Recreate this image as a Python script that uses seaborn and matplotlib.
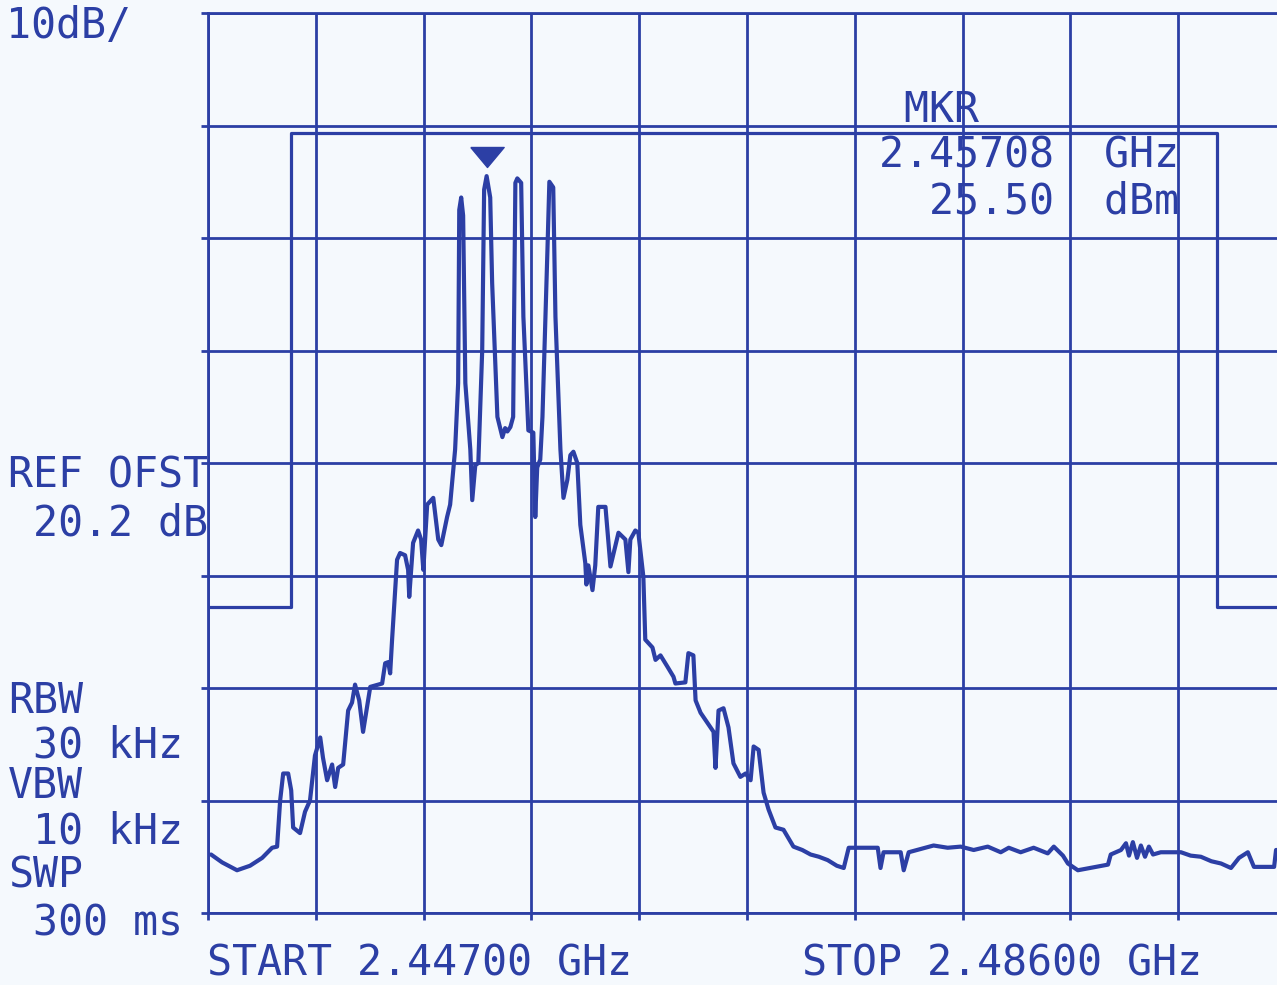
import numpy as np
import pandas as pd
import matplotlib
matplotlib.use("Agg")
import matplotlib.pyplot as plt
import matplotlib.transforms as mtransforms
import seaborn as sns

# ---------------- data ----------------
start_mhz = 2447.0
stop_mhz = 2486.0
ref_level_dbm = 40.0
db_per_div = 10.0
n_xdiv = 10
n_ydiv = 8

trace_freq_mhz = [
    2447.11, 2447.51, 2448.05, 2448.52, 2448.96, 2449.32, 2449.50, 2449.61, 2449.72, 2449.90,
    2450.01, 2450.08, 2450.33, 2450.51, 2450.69, 2450.87, 2451.06, 2451.16, 2451.31, 2451.49,
    2451.60, 2451.71, 2451.89, 2452.07, 2452.21, 2452.32, 2452.47, 2452.61, 2452.87, 2453.30,
    2453.41, 2453.52, 2453.59, 2453.66, 2453.84, 2453.95, 2454.13, 2454.24, 2454.28, 2454.42,
    2454.60, 2454.71, 2454.79, 2454.93, 2455.15, 2455.33, 2455.44, 2455.65, 2455.76, 2455.94,
    2456.05, 2456.09, 2456.16, 2456.23, 2456.31, 2456.49, 2456.56, 2456.67, 2456.78, 2456.92,
    2456.99, 2457.08, 2457.21, 2457.28, 2457.47, 2457.65, 2457.75, 2457.83, 2457.94, 2458.04,
    2458.12, 2458.19, 2458.33, 2458.41, 2458.59, 2458.77, 2458.84, 2458.91, 2459.02, 2459.10,
    2459.28, 2459.35, 2459.49, 2459.57, 2459.75, 2459.86, 2460.00, 2460.11, 2460.22, 2460.36,
    2460.47, 2460.65, 2460.69, 2460.76, 2460.91, 2461.01, 2461.12, 2461.38, 2461.56, 2461.85,
    2462.10, 2462.21, 2462.28, 2462.46, 2462.57, 2462.75, 2462.82, 2463.08, 2463.19, 2463.37,
    2463.62, 2463.84, 2463.91, 2464.27, 2464.38, 2464.56, 2464.64, 2464.82, 2465.29, 2465.36,
    2465.47, 2465.65, 2465.83, 2466.01, 2466.26, 2466.45, 2466.63, 2466.74, 2466.92, 2467.10,
    2467.28, 2467.53, 2467.82, 2468.18, 2468.50, 2468.80, 2469.10, 2469.42, 2469.75, 2470.00,
    2470.18, 2471.23, 2471.33, 2471.44, 2472.06, 2472.17, 2472.35, 2473.25, 2473.76, 2474.23,
    2474.70, 2475.21, 2475.68, 2475.97, 2476.40, 2476.87, 2477.38, 2477.60, 2477.93, 2478.11,
    2478.47, 2479.56, 2479.66, 2480.03, 2480.21, 2480.32, 2480.46, 2480.61, 2480.75, 2480.90,
    2481.04, 2481.19, 2481.47, 2482.20, 2482.55, 2482.92, 2483.30, 2483.65, 2484.01, 2484.30,
    2484.62, 2484.84, 2485.57, 2485.64, 2486.00,
]
trace_level_dbm = [
    -34.8, -35.5, -36.2, -35.8, -35.1, -34.2, -34.1, -30.0, -27.6, -27.6,
    -29.1, -32.4, -32.9, -31.0, -30.0, -26.0, -24.4, -26.2, -28.2, -26.8,
    -28.8, -27.1, -26.8, -22.0, -21.3, -19.7, -21.1, -23.9, -19.9, -19.6,
    -17.8, -17.7, -18.7, -15.7, -8.6, -8.0, -8.2, -9.5, -11.9, -7.1,
    -6.0, -6.8, -9.5, -3.7, -3.1, -6.8, -7.3, -4.8, -3.7, 1.2,
    7.1, 22.5, 23.6, 22.0, 7.1, 1.2, -3.3, -0.2, 0.0, 10.0,
    24.3, 25.5, 23.6, 16.0, 4.1, 2.3, 3.1, 2.8, 3.2, 4.1,
    24.9, 25.3, 24.9, 13.0, 2.9, 2.7, -4.8, -0.4, 0.3, 4.1,
    18.9, 25.0, 24.5, 13.0, 1.2, -3.1, -1.5, 0.7, 1.0, 0.0,
    -5.5, -8.9, -10.8, -9.1, -11.3, -9.1, -3.9, -3.9, -9.2, -6.2,
    -6.8, -9.7, -6.8, -6.0, -6.2, -10.1, -15.7, -16.4, -17.5, -17.1,
    -18.1, -19.0, -19.6, -19.5, -16.9, -17.1, -21.1, -22.2, -23.9, -27.1,
    -22.0, -21.8, -23.5, -26.7, -27.9, -27.6, -28.2, -25.2, -25.5, -29.3,
    -30.8, -32.4, -32.6, -34.1, -34.4, -34.8, -35.0, -35.3, -35.8, -36.0,
    -34.2, -34.2, -36.0, -34.6, -34.6, -36.2, -34.6, -34.0, -34.2, -34.1,
    -34.4, -34.1, -34.6, -34.2, -34.6, -34.2, -34.7, -34.1, -34.9, -35.6,
    -36.2, -35.7, -34.8, -34.4, -33.8, -34.9, -33.7, -35.1, -34.0, -35.0,
    -34.1, -34.8, -34.6, -34.6, -34.9, -35.0, -35.4, -35.6, -36.0, -35.1,
    -34.6, -35.9, -35.9, -34.4, -34.4,
]

mask_freq_mhz = [2447.0, 2450.0, 2450.0, 2483.5, 2483.5, 2486.0]
mask_level_dbm = [-12.8, -12.8, 29.3, 29.3, -12.8, -12.8]

marker_freq_mhz = 2457.08
marker_level_dbm = 25.50

label_scale = "10dB/"
label_ref_ofst = ["REF OFST", " 20.2 dB"]
label_bw = ["RBW", " 30 kHz", "VBW", " 10 kHz", "SWP", " 300 ms"]
label_start = "START 2.44700 GHz"
label_stop = "STOP 2.48600 GHz"
label_mkr = [" MKR", "2.45708  GHz", "  25.50  dBm"]

# ---------------- style ----------------
INK = "#2c3fa5"
PAPER = "#f5f9fd"
W, H = 1277, 985

sns.set_theme(style="white", rc={"axes.facecolor": PAPER, "figure.facecolor": PAPER})
plt.rcParams["font.family"] = ["DejaVu Sans Mono", "DejaVu Sans"]

fig = plt.figure(figsize=(W / 100, H / 100), dpi=100)
ax_left, ax_right, ax_top, ax_bot = 208, 1286, 13, 913
ax = fig.add_axes([ax_left / W, (H - ax_bot) / H, (ax_right - ax_left) / W, (ax_bot - ax_top) / H])

df = pd.DataFrame({"freq": trace_freq_mhz, "level": trace_level_dbm})
sns.lineplot(data=df, x="freq", y="level", ax=ax, estimator=None, sort=False,
             color=INK, linewidth=3.0, zorder=5, solid_joinstyle="round")
ax.plot(mask_freq_mhz, mask_level_dbm, color=INK, linewidth=2.3, zorder=4)

# marker triangle slightly above the marked point
tri = [(-1.0, 0.6), (1.0, 0.6), (0.0, -0.6), (-1.0, 0.6)]
off = mtransforms.offset_copy(ax.transData, fig=fig, x=0, y=14, units="points")
ax.plot([marker_freq_mhz], [marker_level_dbm], marker=tri, markersize=24,
        color=INK, linestyle="none", transform=off, zorder=6)

bottom_level = ref_level_dbm - n_ydiv * db_per_div
ax.set_xlim(start_mhz, stop_mhz)
ax.set_ylim(bottom_level, ref_level_dbm)
ax.set_xticks(np.linspace(start_mhz, stop_mhz, n_xdiv + 1))
ax.set_yticks(np.linspace(bottom_level, ref_level_dbm, n_ydiv + 1))
ax.set_xticklabels([])
ax.set_yticklabels([])
ax.set_xlabel("")
ax.set_ylabel("")
ax.grid(True, color=INK, linewidth=2.0)
ax.tick_params(axis="both", which="both", direction="out", length=5, width=2.0,
               color=INK, left=True, bottom=True)
for s in ax.spines.values():
    s.set_color(INK)
    s.set_linewidth(2.0)
ax.spines["right"].set_visible(False)
ax.set_axisbelow(True)


def put(x_px, base_px, text):
    fig.text(x_px / W, 1 - base_px / H, text, color=INK, fontsize=30,
             ha="left", va="baseline")


put(6, 38, label_scale)
put(8, 488, label_ref_ofst[0])
put(8, 535, label_ref_ofst[1])
for txt, base in zip(label_bw, [713, 758, 798, 843, 887, 935]):
    put(8, base, txt)
put(207, 976, label_start)
put(802, 976, label_stop)
for txt, base in zip(label_mkr, [122, 167, 213]):
    put(879, base, txt)

fig.savefig("out.png", dpi=100, facecolor=PAPER)
